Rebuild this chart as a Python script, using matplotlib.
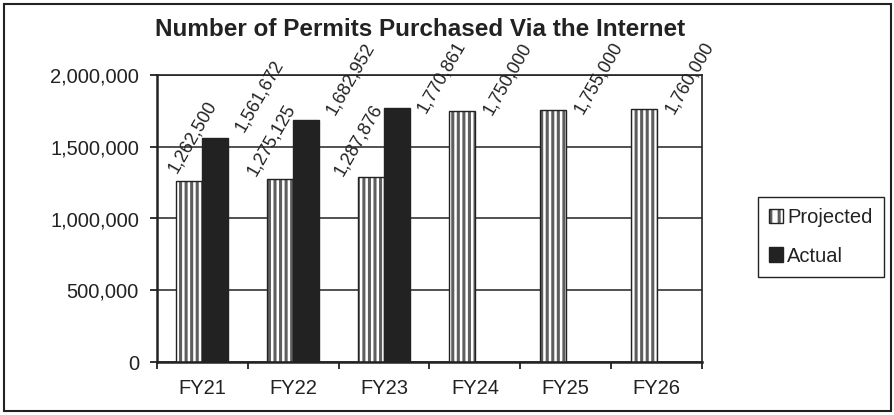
import matplotlib
matplotlib.use("Agg")
import matplotlib.pyplot as plt
import numpy as np
from matplotlib.patches import Patch, Rectangle
from matplotlib.ticker import FuncFormatter, FixedLocator

years = ["FY21", "FY22", "FY23", "FY24", "FY25", "FY26"]
projected = [1262500, 1275125, 1287876, 1750000, 1755000, 1760000]
actual = [1561672, 1682952, 1770861]

plt.rcParams["font.family"] = ["Liberation Sans", "DejaVu Sans"]
plt.rcParams["hatch.linewidth"] = 2.2

ink = "#222222"
stripe = "#5e5e5e"

fig = plt.figure(figsize=(8.95, 4.15), dpi=100)
ax = fig.add_axes([157 / 895, 1 - 362 / 415, 545 / 895, 287 / 415])

x = np.arange(len(years))
w = 0.286
xp = x - w / 2
xa = x[:len(actual)] + w / 2

# striped bars: hatch drawn in grey, outline drawn separately in black
hb = ax.bar(xp, projected, w, color="white", edgecolor=stripe, hatch="|||", linewidth=0, zorder=2)
for p in hb:
    if hasattr(p, "set_hatch_linewidth"):
        p.set_hatch_linewidth(2.2)
ax.bar(xp, projected, w, fill=False, edgecolor=ink, linewidth=1.0, zorder=3)
ax.bar(xa, actual, w, color=ink, edgecolor=ink, linewidth=1.0, zorder=3)

ax.set_xlim(-0.5, len(years) - 0.5)
ax.set_ylim(0, 2000000)
ax.set_yticks(np.arange(0, 2000001, 500000))
ax.yaxis.set_major_formatter(FuncFormatter(lambda v, p: f"{int(v):,}"))
ax.yaxis.grid(True, color=ink, linewidth=1.1)
ax.set_axisbelow(True)

ax.set_xticks(x)
ax.set_xticklabels(years)
ax.xaxis.set_minor_locator(FixedLocator(np.arange(-0.5, len(years), 1.0)))
ax.tick_params(axis="x", which="major", length=0, pad=12, labelsize=14.5, colors=ink)
ax.tick_params(axis="x", which="minor", length=5, width=1.3, color=ink)
ax.tick_params(axis="y", length=5, width=1.3, pad=8, labelsize=14.5, colors=ink)
for s in ax.spines.values():
    s.set_color(ink)
    s.set_linewidth(1.2)
ax.spines["left"].set_linewidth(1.8)
ax.spines["bottom"].set_linewidth(1.8)

# value labels, rotated; the ones squeezed between bars are nudged left
lab = dict(rotation=60, fontsize=13, color=ink, textcoords="offset points",
           annotation_clip=False, zorder=5)
squeezed = [(2, 4), (-6, 0), (-9, -1)]
for i, v in enumerate(projected):
    if i < len(actual):
        ax.annotate(f"{v:,}", (xp[i], v), xytext=squeezed[i], ha="center", va="bottom", **lab)
    else:
        ax.annotate(f"{v:,}", (xp[i] + w / 2, v), xytext=(4, -5), ha="left", va="bottom", **lab)
for i, v in enumerate(actual):
    dy = 2 if v < 1700000 else -6
    ax.annotate(f"{v:,}", (xa[i] + w / 2, v), xytext=(3, dy), ha="left", va="bottom", **lab)

fig.text(420 / 895, 1 - 30 / 415, "Number of Permits Purchased Via the Internet",
         ha="center", va="center", fontsize=17.5, fontweight="bold", color=ink)

proj_handle = (Patch(facecolor="white", edgecolor=stripe, hatch="||", linewidth=0),
               Patch(fill=False, edgecolor=ink, linewidth=1.0))
handles = [proj_handle, Patch(facecolor=ink, edgecolor=ink)]
leg = fig.legend(handles, ["Projected", "Actual"], loc="center",
                 bbox_to_anchor=(821 / 895, 1 - 237 / 415), fontsize=14.5,
                 frameon=True, fancybox=False, edgecolor=ink, framealpha=1,
                 handlelength=0.7, handleheight=0.7, handletextpad=0.2,
                 labelspacing=0.95, borderpad=0.55, borderaxespad=0)
leg.get_frame().set_linewidth(1.0)
for t in leg.get_texts():
    t.set_color(ink)

fig.patches.append(Rectangle((4 / 895, 4 / 415), 887 / 895, 407 / 415,
                             transform=fig.transFigure, fill=False,
                             edgecolor=ink, linewidth=1.5))

fig.savefig("out.png", dpi=100)
